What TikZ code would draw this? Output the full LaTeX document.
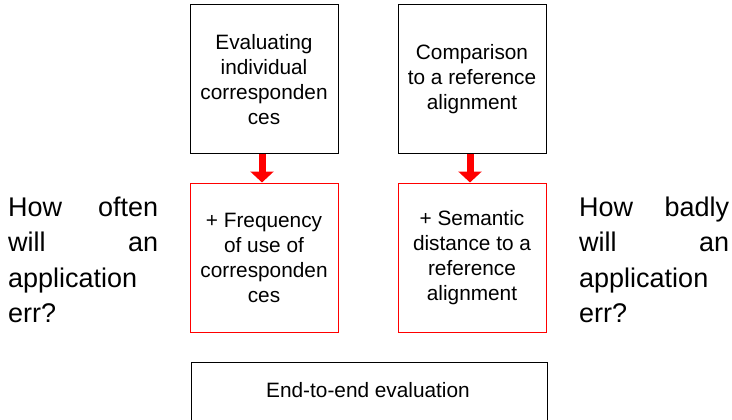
\documentclass[tikz,border=0pt]{standalone}
\usepackage{fontspec}
\setmainfont{Liberation Sans}
\usetikzlibrary{arrows.meta}
\definecolor{arrred}{RGB}{255,0,0}
\newcommand{\spreadline}[2]{\leavevmode\hbox to 150pt{#1\hfill #2}}
\begin{document}
\begin{tikzpicture}[x=1pt,y=-1pt,
  topbox/.style={draw=black,line width=1pt,minimum width=148pt,minimum height=149pt,inner sep=0pt,align=center,
    font=\fontsize{20.8pt}{25pt}\selectfont},
  redbox/.style={topbox,draw=arrred},
  sidetext/.style={anchor=west,inner sep=0pt,text width=150pt,align=left,font=\fontsize{27pt}{35.5pt}\selectfont},
  redarrow/.style={draw=arrred,line width=7pt,-{Triangle[width=23pt,length=11pt]}},
  endbox/.style={draw=black,line width=1pt,minimum width=356pt,minimum height=80pt,inner sep=0pt,anchor=north west}
]
\useasboundingbox (0,0) rectangle (732,420);
\clip (0,0) rectangle (732,420);
\node[topbox] (b1) at (264,79.5) {Evaluating\\individual\\corresponden\\ces};
\node[topbox] (b2) at (472,79.5) {Comparison\\to a reference\\alignment};
\node[redbox] (r1) at (264,257.5) {+ Frequency\\of use of\\corresponden\\ces};
\node[redbox] (r2) at (472,257.5) {+ Semantic\\distance to a\\reference\\alignment};
\draw[redarrow] ([xshift=-2pt]b1.south) -- ([xshift=-2pt]r1.north);
\draw[redarrow] ([xshift=-2pt]b2.south) -- ([xshift=-2pt]r2.north);
\node[sidetext] (q1) at (8,260) {\spreadline{How}{often}\\\spreadline{will}{an}\\application\\err?};
\node[sidetext] (q2) at (579,260) {\spreadline{How}{badly}\\\spreadline{will}{an}\\application\\err?};
\node[endbox] (e) at (191,362) {};
\node[font=\fontsize{20.8pt}{25pt}\selectfont,inner sep=0pt] (et) at (368,390) {End-to-end evaluation};
\end{tikzpicture}
\end{document}
